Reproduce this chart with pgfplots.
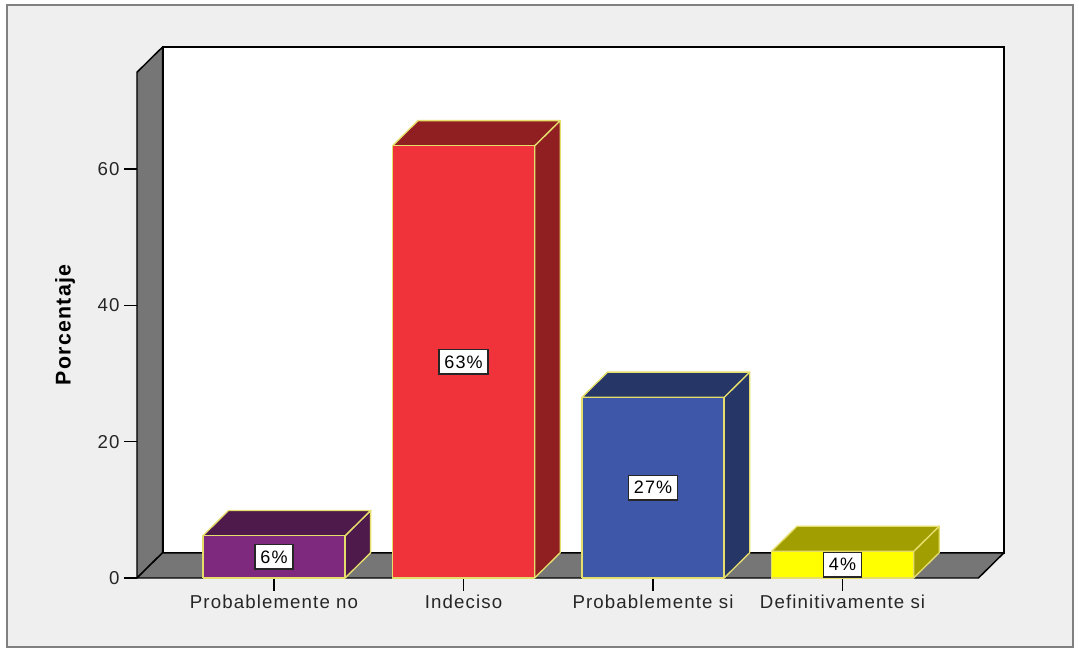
\documentclass[border=0pt]{standalone}
\usepackage{pgfplots}
\pgfplotsset{compat=1.18}
\usepackage{fontspec}
\setmainfont{Liberation Sans}[LetterSpace=6]

\definecolor{bg}{HTML}{EFEFEF}
\definecolor{wall}{HTML}{767676}
\definecolor{edge}{HTML}{E6DE6A}
\definecolor{purF}{HTML}{7E297E}
\definecolor{purD}{HTML}{4E1A4B}
\definecolor{redF}{HTML}{F0323A}
\definecolor{redD}{HTML}{901F22}
\definecolor{bluF}{HTML}{3E57A8}
\definecolor{bluD}{HTML}{253667}
\definecolor{yelF}{HTML}{FFFF00}
\definecolor{yelD}{HTML}{A09E00}

\def\dx{0.135}
\def\dy{3.7}

% #1 category position, #2 value, #3 front colour, #4 dark colour, #5 label
\newcommand{\bardd}[5]{%
  \pgfmathsetmacro\xl{#1-0.375}%
  \pgfmathsetmacro\xr{#1+0.375}%
  \pgfmathsetmacro\xlb{#1-0.375+\dx}%
  \pgfmathsetmacro\xrb{#1+0.375+\dx}%
  \pgfmathsetmacro\vt{#2+\dy}%
  \addplot[fill=#4, draw=edge, line width=1pt, line join=round]
    coordinates {(\xr,0) (\xrb,\dy) (\xrb,\vt) (\xr,#2) (\xr,0)};
  \addplot[fill=#4, draw=edge, line width=1pt, line join=round]
    coordinates {(\xl,#2) (\xr,#2) (\xrb,\vt) (\xlb,\vt) (\xl,#2)};
  \addplot[fill=#3, draw=edge, line width=1pt, line join=round]
    coordinates {(\xl,0) (\xr,0) (\xr,#2) (\xl,#2) (\xl,0)};
  \node[fill=white, draw=black!85, line width=1.2pt, inner xsep=4pt, inner ysep=4.5pt,
        font=\fontsize{13.5}{16}\selectfont] at (axis cs:#1,#2/2) {#5};
}

\begin{document}
\begin{tikzpicture}
\fill[white] (-102.75pt,-55.5pt) rectangle (706.5pt,433.5pt);
\filldraw[fill=bg, draw=black!50, line width=1.6pt] (-97.5pt,-51.75pt) rectangle (702pt,429.75pt);
\begin{axis}[
  at={(0pt,0pt)}, anchor=south west,
  scale only axis, width=650.25pt, height=398.25pt,
  xmin=-0.723, xmax=3.852, ymin=0, ymax=77.9,
  clip=false,
  axis line style={draw=none},
  tick pos=left, tick align=outside,
  major tick length=9.5pt,
  tick style={black, line width=1pt},
  ytick={0,20,40,60},
  xtick={0,1,2,3},
  xticklabels={Probablemente no, Indeciso, Probablemente si, Definitivamente si},
  /pgf/number format/assume math mode=true,
  ticklabel style={font=\fontsize{14}{16}\selectfont, text=black!85},
]
% back wall
\addplot[fill=white, draw=black, line width=1.6pt]
  coordinates {(-0.588,3.7) (3.852,3.7) (3.852,77.9) (-0.588,77.9) (-0.588,3.7)};
% left wall
\addplot[fill=wall, draw=black, line width=1.1pt, line join=round]
  coordinates {(-0.723,0) (-0.588,3.7) (-0.588,77.9) (-0.723,74.2) (-0.723,0)};
% floor
\addplot[fill=wall, draw=black, line width=1.1pt, line join=round]
  coordinates {(-0.723,0) (3.717,0) (3.852,3.7) (-0.588,3.7) (-0.723,0)};

\bardd{0}{6.2}{purF}{purD}{6\%}
\bardd{1}{63.4}{redF}{redD}{63\%}
\bardd{2}{26.5}{bluF}{bluD}{27\%}
\bardd{3}{3.9}{yelF}{yelD}{4\%}
\end{axis}
\node[rotate=90, font=\fontsize{16}{19}\selectfont\bfseries] at (-54pt,189.8pt) {Porcentaje};
\end{tikzpicture}
\end{document}
